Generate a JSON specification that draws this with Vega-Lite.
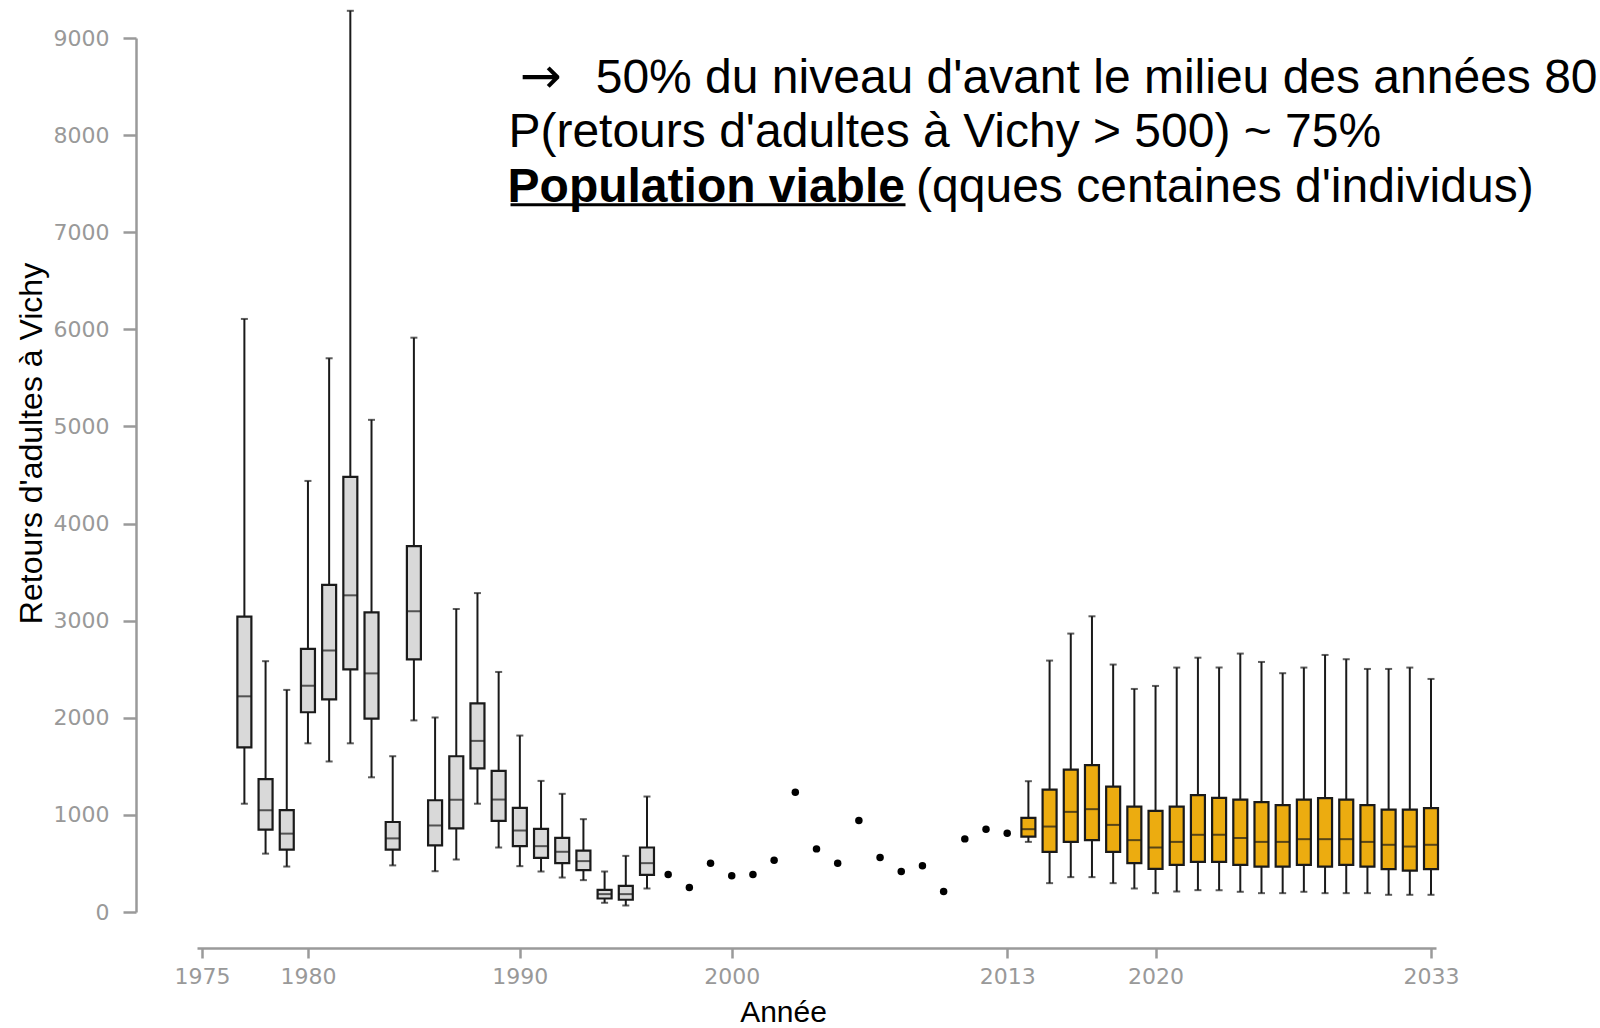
{
  "$schema": "https://vega.github.io/schema/vega-lite/v6.json",
  "width": 1239,
  "height": 874,
  "autosize": {"type": "none"},
  "padding": {"left": 197, "top": 38, "right": 164, "bottom": 116},
  "background": "white",
  "config": {"view": {"stroke": null}},
  "datasets": {
    "boxes": [
      {"year": 1977, "grp": "obs", "lo": 1115, "q1": 1695, "med": 2221, "q3": 3042, "hi": 6107},
      {"year": 1978, "grp": "obs", "lo": 601, "q1": 849, "med": 1049, "q3": 1369, "hi": 2583},
      {"year": 1979, "grp": "obs", "lo": 468, "q1": 643, "med": 807, "q3": 1049, "hi": 2287},
      {"year": 1980, "grp": "obs", "lo": 1737, "q1": 2057, "med": 2330, "q3": 2710, "hi": 4439},
      {"year": 1981, "grp": "obs", "lo": 1550, "q1": 2190, "med": 2692, "q3": 3369, "hi": 5702},
      {"year": 1982, "grp": "obs", "lo": 1737, "q1": 2499, "med": 3261, "q3": 4481, "hi": 9280},
      {"year": 1983, "grp": "obs", "lo": 1387, "q1": 1991, "med": 2457, "q3": 3085, "hi": 5068},
      {"year": 1984, "grp": "obs", "lo": 480, "q1": 643, "med": 758, "q3": 927, "hi": 1604},
      {"year": 1985, "grp": "obs", "lo": 1973, "q1": 2602, "med": 3097, "q3": 3768, "hi": 5914},
      {"year": 1986, "grp": "obs", "lo": 420, "q1": 686, "med": 891, "q3": 1151, "hi": 2003},
      {"year": 1987, "grp": "obs", "lo": 540, "q1": 861, "med": 1157, "q3": 1604, "hi": 3121},
      {"year": 1988, "grp": "obs", "lo": 1115, "q1": 1478, "med": 1762, "q3": 2148, "hi": 3284},
      {"year": 1989, "grp": "obs", "lo": 664, "q1": 939, "med": 1158, "q3": 1453, "hi": 2472},
      {"year": 1990, "grp": "obs", "lo": 472, "q1": 678, "med": 839, "q3": 1073, "hi": 1817},
      {"year": 1991, "grp": "obs", "lo": 417, "q1": 558, "med": 678, "q3": 856, "hi": 1350},
      {"year": 1992, "grp": "obs", "lo": 355, "q1": 503, "med": 620, "q3": 764, "hi": 1217},
      {"year": 1993, "grp": "obs", "lo": 328, "q1": 431, "med": 524, "q3": 633, "hi": 956},
      {"year": 1994, "grp": "obs", "lo": 95, "q1": 139, "med": 184, "q3": 228, "hi": 417},
      {"year": 1995, "grp": "obs", "lo": 67, "q1": 126, "med": 184, "q3": 270, "hi": 578},
      {"year": 1996, "grp": "obs", "lo": 242, "q1": 383, "med": 503, "q3": 664, "hi": 1189},
      {"year": 2014, "grp": "proj", "lo": 722, "q1": 777, "med": 853, "q3": 970, "hi": 1347},
      {"year": 2015, "grp": "proj", "lo": 297, "q1": 620, "med": 880, "q3": 1261, "hi": 2589},
      {"year": 2016, "grp": "proj", "lo": 359, "q1": 722, "med": 1031, "q3": 1467, "hi": 2867},
      {"year": 2017, "grp": "proj", "lo": 359, "q1": 740, "med": 1059, "q3": 1512, "hi": 3045},
      {"year": 2018, "grp": "proj", "lo": 297, "q1": 620, "med": 897, "q3": 1292, "hi": 2548},
      {"year": 2019, "grp": "proj", "lo": 242, "q1": 503, "med": 740, "q3": 1086, "hi": 2297},
      {"year": 2020, "grp": "proj", "lo": 194, "q1": 445, "med": 664, "q3": 1042, "hi": 2328},
      {"year": 2021, "grp": "proj", "lo": 211, "q1": 486, "med": 722, "q3": 1086, "hi": 2517},
      {"year": 2022, "grp": "proj", "lo": 225, "q1": 517, "med": 795, "q3": 1203, "hi": 2619},
      {"year": 2023, "grp": "proj", "lo": 225, "q1": 517, "med": 795, "q3": 1175, "hi": 2517},
      {"year": 2024, "grp": "proj", "lo": 208, "q1": 486, "med": 762, "q3": 1158, "hi": 2661},
      {"year": 2025, "grp": "proj", "lo": 194, "q1": 468, "med": 722, "q3": 1131, "hi": 2575},
      {"year": 2026, "grp": "proj", "lo": 194, "q1": 468, "med": 722, "q3": 1100, "hi": 2459},
      {"year": 2027, "grp": "proj", "lo": 208, "q1": 486, "med": 750, "q3": 1158, "hi": 2517},
      {"year": 2028, "grp": "proj", "lo": 194, "q1": 468, "med": 750, "q3": 1172, "hi": 2647},
      {"year": 2029, "grp": "proj", "lo": 194, "q1": 486, "med": 750, "q3": 1158, "hi": 2603},
      {"year": 2030, "grp": "proj", "lo": 194, "q1": 468, "med": 722, "q3": 1100, "hi": 2503},
      {"year": 2031, "grp": "proj", "lo": 177, "q1": 441, "med": 692, "q3": 1055, "hi": 2503},
      {"year": 2032, "grp": "proj", "lo": 177, "q1": 427, "med": 674, "q3": 1055, "hi": 2517},
      {"year": 2033, "grp": "proj", "lo": 177, "q1": 441, "med": 692, "q3": 1069, "hi": 2400}
    ],
    "dots": [
      {"year": 1997, "value": 386},
      {"year": 1998, "value": 252},
      {"year": 1999, "value": 503},
      {"year": 2000, "value": 373},
      {"year": 2001, "value": 386},
      {"year": 2002, "value": 534},
      {"year": 2003, "value": 1234},
      {"year": 2004, "value": 650},
      {"year": 2005, "value": 503},
      {"year": 2006, "value": 942},
      {"year": 2007, "value": 561},
      {"year": 2008, "value": 417},
      {"year": 2009, "value": 476},
      {"year": 2010, "value": 211},
      {"year": 2011, "value": 753},
      {"year": 2012, "value": 853},
      {"year": 2013, "value": 812}
    ]
  },
  "encoding": {
    "x": {
      "type": "quantitative",
      "scale": {"domain": [1975, 2033], "nice": false, "zero": false},
      "axis": {
        "values": [1975, 1980, 1990, 2000, 2013, 2020, 2033],
        "format": "d",
        "offset": 36,
        "grid": false,
        "domainColor": "#9a9a9a",
        "domainWidth": 2.5,
        "tickColor": "#9a9a9a",
        "tickWidth": 2.5,
        "tickSize": 10,
        "labelColor": "#999999",
        "labelFont": "DejaVu Sans",
        "labelFontSize": 22,
        "labelPadding": 8,
        "labelFlush": false,
        "labelOverlap": false,
        "title": "Année",
        "titleFont": "Liberation Sans",
        "titleFontSize": 30,
        "titleFontWeight": "normal",
        "titleColor": "#000000",
        "titleX": 586,
        "titleY": 73,
        "titleAlign": "center",
        "titleBaseline": "alphabetic"
      }
    },
    "y": {
      "type": "quantitative",
      "scale": {"domain": [0, 9000], "nice": false},
      "axis": {
        "values": [0, 1000, 2000, 3000, 4000, 5000, 6000, 7000, 8000, 9000],
        "format": "d",
        "offset": 61,
        "grid": false,
        "domainColor": "#9a9a9a",
        "domainWidth": 2.5,
        "tickColor": "#9a9a9a",
        "tickWidth": 2.5,
        "tickSize": 13,
        "labelColor": "#999999",
        "labelFont": "DejaVu Sans",
        "labelFontSize": 22,
        "labelPadding": 14,
        "title": "Retours d'adultes à Vichy",
        "titleFont": "Liberation Sans",
        "titleFontSize": 32,
        "titleFontWeight": "normal",
        "titleColor": "#000000",
        "titleAngle": -90,
        "titleX": -105,
        "titleY": 405,
        "titleAlign": "center",
        "titleBaseline": "middle"
      }
    }
  },
  "layer": [
    {
      "data": {"name": "boxes"},
      "mark": {"type": "rule", "color": "#1a1a1a", "strokeWidth": 2},
      "encoding": {"x": {"field": "year"}, "y": {"field": "lo"}, "y2": {"field": "hi"}}
    },
    {
      "data": {"name": "boxes"},
      "mark": {"type": "tick", "orient": "horizontal", "color": "#1a1a1a", "size": 7, "thickness": 2},
      "encoding": {"x": {"field": "year"}, "y": {"field": "lo"}}
    },
    {
      "data": {"name": "boxes"},
      "mark": {"type": "tick", "orient": "horizontal", "color": "#1a1a1a", "size": 7, "thickness": 2},
      "encoding": {"x": {"field": "year"}, "y": {"field": "hi"}}
    },
    {
      "data": {"name": "boxes"},
      "mark": {"type": "bar", "size": 14, "stroke": "#1a1a1a", "strokeWidth": 2.2, "fillOpacity": 1},
      "encoding": {
        "x": {"field": "year"},
        "y": {"field": "q1"},
        "y2": {"field": "q3"},
        "fill": {"field": "grp", "type": "nominal", "scale": {"domain": ["obs", "proj"], "range": ["#d9d9d9", "#ecac10"]}, "legend": null}
      }
    },
    {
      "data": {"name": "boxes"},
      "mark": {"type": "tick", "orient": "horizontal", "color": "#1a1a1a", "size": 14, "thickness": 2},
      "encoding": {"x": {"field": "year"}, "y": {"field": "med"}}
    },
    {
      "data": {"name": "dots"},
      "mark": {"type": "circle", "color": "#000000", "size": 56, "opacity": 1},
      "encoding": {"x": {"field": "year"}, "y": {"field": "value"}}
    },
    {
      "data": {"values": [{"t": "→"}]},
      "mark": {"type": "text", "align": "left", "baseline": "alphabetic", "font": "DejaVu Sans", "fontSize": 50, "color": "#000000"},
      "encoding": {"x": {"datum": 1990.0}, "y": {"datum": 8435}, "text": {"field": "t"}}
    },
    {
      "data": {"values": [{"t": "50% du niveau d'avant le milieu des années 80"}]},
      "mark": {"type": "text", "align": "left", "baseline": "alphabetic", "font": "Liberation Sans", "fontSize": 48, "color": "#000000"},
      "encoding": {"x": {"datum": 1993.58}, "y": {"datum": 8435}, "text": {"field": "t"}}
    },
    {
      "data": {"values": [{"t": "P(retours d'adultes à Vichy > 500) ~ 75%"}]},
      "mark": {"type": "text", "align": "left", "baseline": "alphabetic", "font": "Liberation Sans", "fontSize": 48, "color": "#000000"},
      "encoding": {"x": {"datum": 1989.46}, "y": {"datum": 7873}, "text": {"field": "t"}}
    },
    {
      "data": {"values": [{"t": "Population viable"}]},
      "mark": {"type": "text", "align": "left", "baseline": "alphabetic", "font": "Liberation Sans", "fontSize": 48, "fontWeight": "bold", "color": "#000000"},
      "encoding": {"x": {"datum": 1989.42}, "y": {"datum": 7313}, "text": {"field": "t"}}
    },
    {
      "data": {"values": [{"t": "(qques centaines d'individus)"}]},
      "mark": {"type": "text", "align": "left", "baseline": "alphabetic", "font": "Liberation Sans", "fontSize": 48, "color": "#000000"},
      "encoding": {"x": {"datum": 2008.7}, "y": {"datum": 7313}, "text": {"field": "t"}}
    },
    {
      "data": {"values": [{"u": 1}]},
      "mark": {"type": "rule", "color": "#000000", "strokeWidth": 3},
      "encoding": {"x": {"datum": 1989.56}, "x2": {"datum": 2008.2}, "y": {"datum": 7283}}
    }
  ]
}
